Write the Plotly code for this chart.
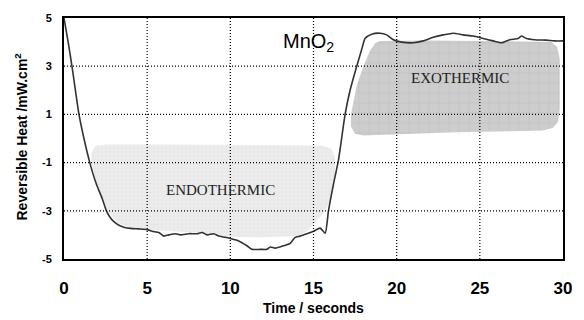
import plotly.graph_objects as go

# ---- data ----
time_s = [0, 0.25, 0.5, 0.9, 1.2, 1.55, 1.95, 2.3, 2.55, 2.8, 3.0, 3.3, 3.6, 4.0, 4.5, 5.0, 5.3,
          5.7, 6.0, 6.3, 6.7, 7.0, 7.5, 8.0, 8.3, 8.6, 9.0, 9.3, 9.7, 10.0, 10.5, 11.0, 11.3,
          11.8, 12.2, 12.4, 12.7, 13.2, 13.6, 13.9, 14.2, 14.6, 15.0, 15.4, 15.7, 15.9, 16.2,
          16.5, 16.9, 17.2, 17.6, 17.9, 18.1, 18.5, 19.0, 19.4, 19.8, 20.3, 21.0, 21.6, 22.2,
          22.8, 23.4, 24.0, 24.6, 25.2, 25.8, 26.3, 26.8, 27.3, 27.5, 27.8, 28.3, 29.0, 29.5, 30.0]
heat = [5.0, 4.0, 2.9, 1.0, 0.0, -1.0, -1.9, -2.5, -3.0, -3.3, -3.45, -3.6, -3.68, -3.73, -3.75,
        -3.78, -3.85, -3.9, -4.05, -4.0, -3.95, -4.0, -3.95, -3.95, -3.9, -4.0, -3.95, -4.05,
        -4.1, -4.15, -4.25, -4.45, -4.6, -4.6, -4.6, -4.5, -4.55, -4.45, -4.35, -4.1, -4.05,
        -3.95, -3.85, -3.72, -3.93, -3.0, -1.9, -0.9, 1.0, 2.0, 3.0, 3.7, 4.15, 4.33, 4.37,
        4.3, 4.1, 4.0, 3.97, 4.05, 4.2, 4.3, 4.37, 4.3, 4.25, 4.15, 4.05, 3.97, 4.1, 4.15,
        4.25, 4.15, 4.1, 4.08, 4.05, 4.05]

# shaded regions (outlines)
exo_t = [19.0, 22, 25, 28, 29.3, 29.65, 29.8, 29.8, 29.7, 29.4, 28.8, 27, 25, 23, 21, 19,
         18.0, 17.5, 17.25, 17.25, 17.6, 18.0, 18.4, 18.7, 19.0]
exo_v = [4.05, 4.07, 4.05, 4.02, 4.0, 3.8, 3.3, 1.2, 0.7, 0.45, 0.33, 0.3, 0.28, 0.25, 0.2,
         0.15, 0.12, 0.2, 0.5, 1.0, 2.2, 3.0, 3.64, 3.95, 4.05]
endo_t = [1.9, 2.5, 5, 10, 14, 15.6, 16.1, 16.3, 16.3, 16.05, 15.6, 15.2, 14.6, 14.1, 12, 10,
          9.7, 8, 6.5, 5, 4, 3.2, 2.6, 2.0, 1.65, 1.65, 1.9]
endo_v = [-0.3, -0.25, -0.25, -0.25, -0.28, -0.3, -0.45, -0.8, -1.7, -2.55, -3.1, -3.4, -3.85,
          -4.05, -4.1, -4.08, -4.05, -3.9, -3.85, -3.78, -3.72, -3.5, -3.0, -2.0, -1.0, -0.6, -0.3]

x_ticks = [0, 5, 10, 15, 20, 25, 30]
y_ticks = [-5, -3, -1, 1, 3, 5]
x_grid = [5, 10, 15, 20, 25]
y_grid = [-3, -1, 1, 3]

fig = go.Figure()
fig.add_trace(go.Scatter(x=endo_t, y=endo_v, mode="lines", fill="toself", line=dict(width=0),
                         fillcolor="#ededed",
                         fillpattern=dict(shape="+", bgcolor="#ededed", fgcolor="#d8d8d8",
                                          size=4, solidity=0.25),
                         hoverinfo="skip", showlegend=False))
fig.add_trace(go.Scatter(x=exo_t, y=exo_v, mode="lines", fill="toself", line=dict(width=0),
                         fillcolor="#cdcdcd",
                         fillpattern=dict(shape="+", bgcolor="#cdcdcd", fgcolor="#a6a6a6",
                                          size=10, solidity=0.08),
                         hoverinfo="skip", showlegend=False))
fig.add_trace(go.Scatter(x=time_s, y=heat, mode="lines", line=dict(color="#333333", width=1.6),
                         line_shape="spline", line_smoothing=0.6, showlegend=False))

dots = "1px,2px"
for gx in x_grid:
    fig.add_vline(x=gx, line=dict(color="black", width=1.2, dash=dots), layer="above")
for gy in y_grid:
    fig.add_hline(y=gy, line=dict(color="black", width=1.2, dash=dots), layer="above")

fig.add_annotation(x=14.7, y=3.97, text="MnO<sub>2</sub>", showarrow=False,
                   font=dict(family="Liberation Sans, Arial", size=20, color="black"))
fig.add_annotation(x=23.8, y=2.52, text="EXOTHERMIC", showarrow=False,
                   font=dict(family="Liberation Serif, Times New Roman", size=15, color="#222"))
fig.add_annotation(x=9.4, y=-2.15, text="ENDOTHERMIC", showarrow=False,
                   font=dict(family="Liberation Serif, Times New Roman", size=15, color="#222"))
fig.add_annotation(xref="paper", yref="paper", x=0.5, y=0, yshift=-49, yanchor="middle",
                   xanchor="center", text="<b>Time / seconds</b>", showarrow=False,
                   font=dict(family="Liberation Sans, Arial", size=14, color="black"))
fig.add_annotation(xref="paper", yref="paper", x=0, y=0.5, xshift=-43, yshift=2,
                   xanchor="center", yanchor="middle", textangle=-90,
                   text="<b>Reversible Heat /mW.cm<sup>2</sup></b>", showarrow=False,
                   font=dict(family="Liberation Sans, Arial", size=14, color="black"))

fig.update_xaxes(range=[0, 30], tickvals=x_ticks, ticktext=[str(v) for v in x_ticks],
                 showgrid=False, zeroline=False, showline=True, linecolor="black", linewidth=2,
                 mirror=True, ticks="", ticklabelstandoff=13,
                 tickfont=dict(family="Liberation Sans, Arial", size=17, color="black", weight="bold"))
fig.update_yaxes(range=[-5, 5], tickvals=y_ticks, ticktext=[str(v) for v in y_ticks],
                 showgrid=False, zeroline=False, showline=True, linecolor="black", linewidth=2,
                 mirror=True, ticks="", ticklabelstandoff=8,
                 tickfont=dict(family="Liberation Sans, Arial", size=11, color="black", weight="bold"))
fig.update_layout(width=584, height=320, margin=dict(l=64, r=18, t=17, b=61),
                  plot_bgcolor="white", paper_bgcolor="white")
fig.write_html("out.html")
